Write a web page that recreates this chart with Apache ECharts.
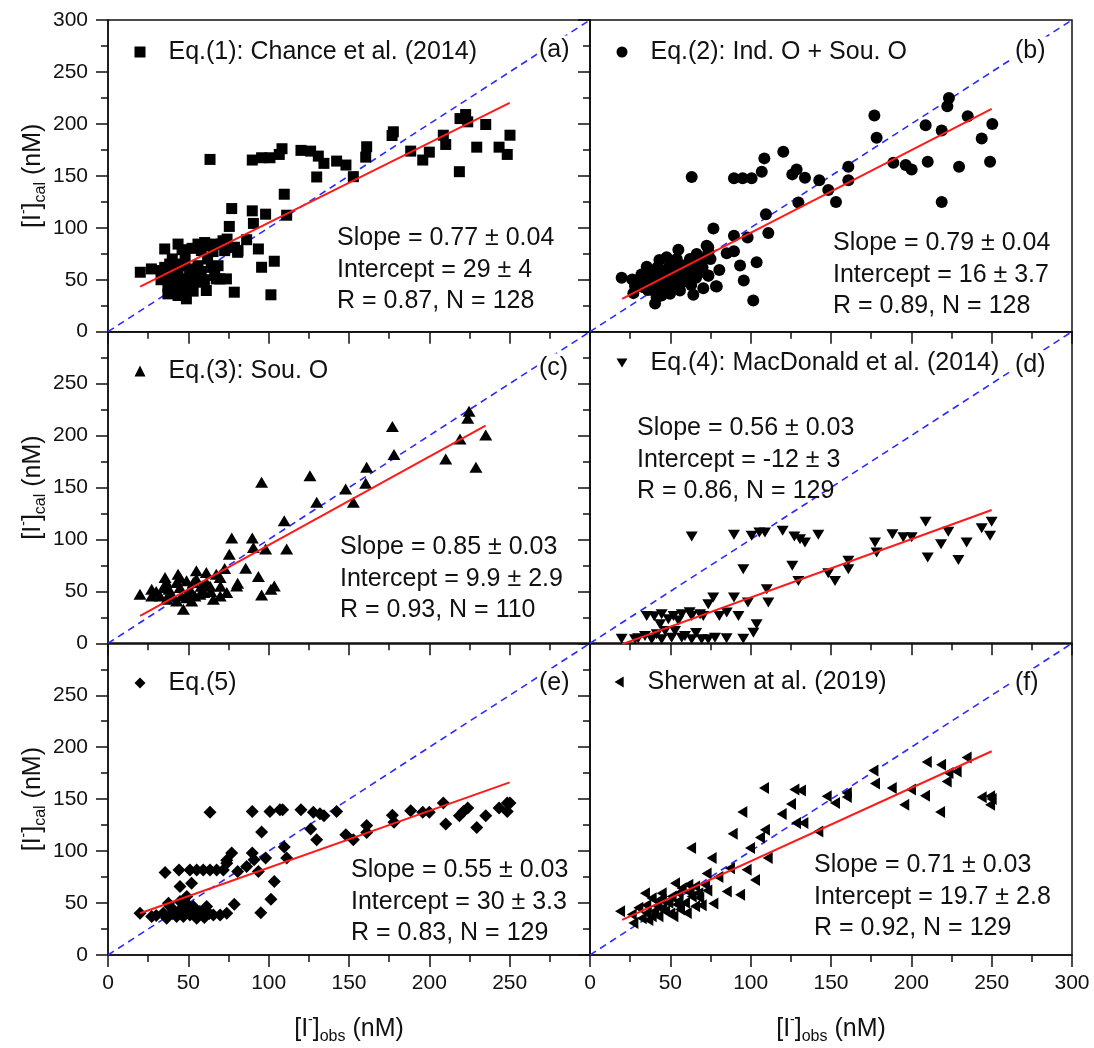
<!DOCTYPE html>
<html>
<head>
<meta charset="utf-8">
<script src="https://cdn.jsdelivr.net/npm/echarts@6/dist/echarts.min.js"></script>
<style>
html,body{margin:0;padding:0;background:#fff;}
#chart{width:1094px;height:1048px;}
</style>
</head>
<body>
<div id="chart"></div>
<script>
// ---------------- DATA ----------------
const xTicks = [0, 50, 100, 150, 200, 250, 300];
const yTicks = [0, 50, 100, 150, 200, 250, 300];

const namesPanel = [
  'Eq.(1): Chance et al. (2014)',
  'Eq.(2): Ind. O + Sou. O',
  'Eq.(3): Sou. O',
  'Eq.(4): MacDonald et al. (2014)',
  'Eq.(5)',
  'Sherwen at al. (2019)'
];
const panelTags = ['(a)', '(b)', '(c)', '(d)', '(e)', '(f)'];

const statsA = ['Slope = 0.77 \u00b1 0.04', 'Intercept = 29 \u00b1 4', 'R = 0.87, N = 128'];
const statsB = ['Slope = 0.79 \u00b1 0.04', 'Intercept = 16 \u00b1 3.7', 'R = 0.89, N = 128'];
const statsC = ['Slope = 0.85 \u00b1 0.03', 'Intercept = 9.9 \u00b1 2.9', 'R = 0.93, N = 110'];
const statsD = ['Slope = 0.56 \u00b1 0.03', 'Intercept = -12 \u00b1 3', 'R = 0.86, N = 129'];
const statsE = ['Slope = 0.55 \u00b1 0.03', 'Intercept = 30 \u00b1 3.3', 'R = 0.83, N = 129'];
const statsF = ['Slope = 0.71 \u00b1 0.03', 'Intercept = 19.7 \u00b1 2.8', 'R = 0.92, N = 129'];

const oneToOne = [[0, 0], [300, 300]];
const fitA = [[20, 43.4], [250, 220.2]];
const fitB = [[20, 31.6], [250, 214.4]];
const fitC = [[20, 26.4], [235, 209.6]];
const fitD = [[20, -0.8], [250, 128.3]];
const fitE = [[20, 40.2], [250, 166.2]];
const fitF = [[20, 33.8], [250, 196.1]];

const panelA = [[63.5,165.8],[89.8,165.2],[95.6,167.4],[100.8,167.4],[106.6,170.6],[108.3,176.1],[120.1,174.5],[126.1,173.8],[130.9,169],[134.4,162],[129.9,148.9],[142.3,164.2],[148.1,160.4],[152.7,149.2],[161,178],[160.4,168],[177.6,192.4],[176.8,188.8],[188.4,173.8],[195.9,165.2],[200,172.8],[208.7,189.1],[210.2,180.2],[218.7,154],[219.1,205.1],[222.6,209],[223.9,202],[229.5,177.6],[235.1,199.4],[243.4,177.6],[248.5,170.6],[250.2,189.1],
[109.7,132.3],[111.2,112.1],[77,118.5],[89.8,116.3],[98.1,113.1],[90.5,104.2],[75.5,101.3],[86.3,88.5],[93.6,79.6],[80.7,76.4],[103.5,67.8],[95.6,62],[101.4,35.5],[78.6,38],[74.1,89.1],[78.7,81.3],
[35.3,79.6],[43.6,84.3],[46.1,78.9],[52.3,80.2],[56,84.3],[62.2,82.9],[65.4,77.1],[70.5,84.3],[71.6,87.5],[72.6,78],[64.7,84.3],[60.2,85.8],[58.1,78],
[20.1,57.2],[27,60.4],[35.3,61.9],[38.4,65.1],[41.5,65.1],[47.7,63.5],[52.9,60.4],[56,63.5],[55,55.5],[43.6,58.8],[36.3,54],[39.4,49.2],[44.6,49.2],[49.8,50.8],[56,47.6],[37.3,42.8],[41.5,41.2],[37.3,36.4],[43.6,34.8],[48.8,31.6],[47.7,36.4],[50.8,46],[61.2,39.6],[64.3,61.9],[68.5,63.5],[66.4,54],[69.5,50.8],[73.7,50.8],[67.4,50.8],[80.9,78],[41.5,55.5],[33.2,58.8],[50.8,57.2],
[40,45],[45,40],[52,52],[58,58],[62,70],[40,70],[48,72],[33,50],[53,39],[60,50]];

const panelB = [[63.3,148.9],[89.6,147.6],[95,147.6],[100.6,147.6],[106.9,154],[108.5,166.8],[120.3,173.2],[125.9,151.4],[128.6,156.2],[133.8,148.2],[129.7,124.3],[142.7,145.7],[148.3,136.4],[153.1,124.9],[160.8,158.8],[160.8,145.7],[177,208],[178.4,186.6],[188.8,162.6],[196.5,160.4],[200.2,156.2],[208.9,198.7],[210.2,163.6],[218.9,124.9],[218.9,193.6],[222.4,216.9],[223.4,225],[229.7,158.8],[235.1,207.3],[243.8,185.9],[249,163.6],[250.4,200],
[109.5,113.1],[111,94.9],[76.8,99.4],[89.6,92.3],[98.1,90.7],[89.6,77.3],[85.1,75.4],[93.4,63.6],[103.7,66.8],[95.7,49.2],[101.6,30],[80.5,59.4],[78.9,43.4],[73.6,54],[73.6,81.2],
[19.7,51.8],[26.3,50.2],[27,37.1],[35.3,62.6],[43.2,69],[55,78.9],[72.6,82.8],[66.4,74.8],[62.2,70],[58.1,63.6],[49.8,65.2],[46.7,58.8],[41.5,54],[36.3,49.2],[33.2,42.8],[39.4,39.6],[40.5,27],[44.6,34.8],[49.8,36.4],[56,39.6],[64.3,35.5],[70.5,41.8],[78.4,43.8],[73.7,53.9],[68.5,57.2],[62.2,50.8],[54,49.2],[47.7,46],[43.6,46],[38.4,46],[35.3,50.8],[51.9,54],[58.1,55.5],[62.2,58.8],[65.4,65.2],[54,70],[47.7,71.6],[69.5,70],[73.7,76.4],[49.8,42.8],[41.5,33.2],
[30,45],[32,55],[38,58],[42,62],[45,52],[48,60],[52,58],[55,65],[58,48],[60,62],[63,45],[66,52],[70,62],[75,70],[45,40],[53,44],[36,40],[28,44]];

const panelC = [[95.6,155],[125.7,161.4],[129.9,135.7],[147.9,148.6],[152.7,135.7],[161,169.5],[160.4,154],[177,208.7],[178,181.7],[210.2,177.5],[219.1,196.8],[223.9,216.7],[224.7,223.5],[229,169.5],[235.1,200.6],
[109.7,118],[111.2,90.7],[77,101.3],[89.8,101.3],[90.5,92.3],[98.1,90.7],[75.5,85.8],[85.7,72.3],[93.6,64.3],[80.7,57.9],[103.5,55.3],[101.4,52.1],[95.6,46.6],
[19.9,47.2],[27.2,52.1],[27.2,45.6],[35.5,63.4],[43.6,66.6],[55,69.8],[61.2,68.2],[67.4,66.6],[72.6,72.1],[34.4,53.7],[38.6,48.9],[44.8,53.7],[51,52.1],[57.2,47.2],[46.9,32.8],[42.7,40.8],[36.5,42.4],[48.9,44],[54.1,45.6],[65.6,42.4],[69.8,45.6],[73.9,48.9],[80.1,55.3],[42.7,58.6],[48.9,60.2],[53.1,58.6],[61.2,58.6],[69.8,63.4],[39.6,45.6],[32.4,45.6],[45.8,45.6],[52.1,40.8],[59.6,48.9],[63.5,55.3],[36.5,58.6],
[30,50],[38,52],[50,48],[58,55],[64,50],[70,55],[45,63],[55,62]];

const panelD = [[63.3,102.9],[89.6,104.5],[100.6,103.5],[105.4,106.8],[108.9,106.8],[119.9,108.3],[127.2,102.9],[130.7,100.3],[133.8,97.1],[142.1,104.5],[95.4,71.4],[125.9,74.6],[129.7,60.1],[148.3,67.5],[152.5,60.1],[160.8,79.4],[160.8,71.4],[177.4,97.1],[178.4,87.5],[188.2,105.1],[195,102],[200.2,102],[208.9,117],[210.2,82.7],[218.5,95.5],[223,107.5],[229.3,80.1],[234.4,97.1],[243.8,110.9],[249,103.5],[250,117],
[110,52.1],[111,39.3],[76.7,44.1],[89.6,44.1],[98.3,39.3],[85.1,29.6],[92.4,26.4],[103.7,18.3],[101.7,10.3],[95.4,4.5],[80.5,26.4],[73.6,37.6],
[19.7,4.5],[28,3.9],[35.3,26.4],[44.6,28],[43.6,18.3],[52,26.4],[57.1,28],[63.3,26.4],[68.5,28],[70.5,26.4],[48.8,23.2],[38.4,3.9],[44.6,3.9],[50.8,5.5],[57.1,5.5],[63.3,3.9],[69.5,3.9],[77.8,5.5],[46.7,11.9],[52.9,11.9],[41.5,8.7],[34.2,7.1],[59.1,7.1],[73.6,3.9],
[40,26],[55,22],[62,30],[30,5],[85,5],[66,10]];

const panelE = [[63.5,137.3],[89.8,138.2],[100.8,138.2],[107,139.8],[108.7,139.8],[120.1,139.8],[127.8,137.3],[131.9,136],[134.4,134.1],[142.3,138.2],[95.6,118.3],[126.1,121.2],[129.9,110.9],[109.7,103.9],[111.2,93.3],[77,98.2],[89.8,98.2],[90.9,91.8],[98.1,93.3],[86.3,85.2],[80.7,80.3],[73.9,91.3],[93.6,80.3],[103.5,70.7],[101.4,53.6],[95.1,40.7],[78.6,48.8],
[148,115.8],[152.7,110.9],[161,124.7],[161,118],[177,134.4],[178,127.7],[188.4,138.8],[195.9,137.3],[200,137.3],[208.7,146.3],[210.2,126],[218.7,134.1],[221.2,138.2],[223.9,141.5],[229.5,122.8],[235.1,134.1],[243.4,141.5],[248.5,138.2],[250.2,146.3],[248.5,146.3],
[19.9,40.2],[27.2,37],[35.5,79.4],[44.2,81.9],[44.8,65.9],[52,69.1],[51,81.9],[55.2,81.9],[59.3,81.9],[63.5,81.9],[67.6,81.9],[71.8,81.9],[73.9,88.4],[49,56.3],[38.6,46.6],[34.4,40.2],[36.5,35.4],[42.7,37],[46.9,37],[51,38.6],[55.2,35.4],[57.2,41.8],[61.4,46.6],[65.6,38.6],[69.8,38.6],[73.9,40.2],[40.6,43.4],[45.8,45],[50,43.4],[53.1,46.6],[37.6,49.8],[44.8,51.4],
[30,38],[40,40],[47,42],[55,40],[60,36],[63,40],[50,48]];

const panelF = [[62.9,102.9],[108.3,160.8],[94.8,137.6],[88.8,116.7],[75.7,93.3],[119.3,135.7],[125.1,145.3],[127.2,159.2],[131.3,158.3],[128.2,127],[132.8,127],[108.9,120.5],[105.8,113.1],[99.6,102.9],[110.6,93.3],[142.1,118.9],[147.3,152.7],[152.5,146.3],[159.8,155.9],[159.8,152.1],[176.4,177.5],[177.4,165],[187.8,160.8],[195.6,144.7],[199.8,159.2],[208.5,153.4],[209.6,185.8],[217.9,137.6],[218.5,183.2],[222,167.1],[223.1,175.1],[228.2,176.7],[234.4,190.2],[243.8,151.8],[249,152.8],[249,144.7],[250,150.2],
[87.1,83.6],[97.5,82],[102.7,72.3],[85.1,61.1],[93.4,57.9],[79.9,75.1],[72.6,78.4],[76.8,49.5],[69.5,47.9],
[18.7,42.1],[26,38.9],[27,30.9],[34.2,59.5],[38.4,54.7],[35.3,40.5],[36.3,33.8],[41.5,47.2],[44.6,59.5],[46.7,42.1],[50.8,56.3],[52.9,69.1],[57.1,64.3],[61.2,67.5],[65.4,65.9],[71.6,67.5],[51.9,37.3],[56,43.7],[59.1,50.2],[63.3,56.3],[67.4,59.5],[42.6,37.3],[48.8,50.2],[54,48.6],[60.2,40.5],[65.4,47],[30.1,45.6],[32.2,35.4],[38.4,37.3],[44.6,53.1],[55,59.5],
[40,42],[45,45],[50,40],[55,52],[62,60],[68,55],[73,62],[35,48],[42,52]];

// ---------------- LAYOUT ----------------
const FONT = '"Liberation Sans", Arial, Helvetica, sans-serif';
const ICON_DOWN = 'path://M0,0L12,0L6,10Z';
const ICON_LEFT = 'path://M0,6L10,0L10,12Z';
const panels = [
  {pts: panelA, fit: fitA, stats: statsA, sym: 'rect', size: 11, rot: 0, icon: 'rect'},
  {pts: panelB, fit: fitB, stats: statsB, sym: 'circle', size: 12, rot: 0, icon: 'circle'},
  {pts: panelC, fit: fitC, stats: statsC, sym: 'triangle', size: [13, 11], rot: 0, icon: 'triangle'},
  {pts: panelD, fit: fitD, stats: statsD, sym: 'triangle', size: [12, 10], rot: 180, icon: ICON_DOWN},
  {pts: panelE, fit: fitE, stats: statsE, sym: 'diamond', size: 13, rot: 0, icon: 'diamond'},
  {pts: panelF, fit: fitF, stats: statsF, sym: 'triangle', size: [12, 10], rot: 90, icon: ICON_LEFT}
];
const gridLeft = [108, 590];
const gridTop = [20, 331.67, 643.33];
const gridW = 482, gridH = 311.67;

// positions of in-panel text (px)
const legendPos = [[134.5, 52], [616.5, 52], [134.5, 371], [616.5, 363], [134.5, 683], [614.5, 682]];
const tagPos = [[537, 50], [1013, 51], [537, 368], [1013, 365], [537, 683], [1013, 683]];
const statPos = [[337, 238], [833, 243], [340, 547], [637, 428], [351, 870], [814, 865]];

const axisNameRich = {
  a: {fontSize: 25, fontFamily: FONT, color: '#111', lineHeight: 32},
  sup: {fontSize: 14, fontFamily: FONT, color: '#111', verticalAlign: 'top', lineHeight: 15},
  sub: {fontSize: 16, fontFamily: FONT, color: '#111', verticalAlign: 'bottom', lineHeight: 17}
};

const grids = [], xAxes = [], yAxes = [], series = [], legends = [], graphics = [];
panels.forEach((p, i) => {
  const col = i % 2, row = Math.floor(i / 2);
  grids.push({left: gridLeft[col], top: gridTop[row], width: gridW, height: gridH,
    show: true, borderColor: '#111', borderWidth: 1.5, backgroundColor: 'transparent'});
  const isBottom = row === 2, isLeft = col === 0;
  xAxes.push({
    gridIndex: i, type: 'value', min: xTicks[0], max: xTicks[xTicks.length - 1], interval: 50,
    axisLine: {show: true, lineStyle: {color: '#111', width: 1.5}},
    axisTick: {show: true, inside: false, length: 12, lineStyle: {color: '#111', width: 1.5}},
    minorTick: {show: true, splitNumber: 2, length: 7, lineStyle: {color: '#111', width: 1.5}},
    splitLine: {show: false},
    axisLabel: {show: isBottom, fontSize: 21, fontFamily: FONT, color: '#111', margin: 18,
      showMaxLabel: !isLeft},
    name: isBottom ? '{a|[I}{sup|-}{a|]}{sub|obs}{a| (nM)}' : '',
    nameLocation: 'middle', nameGap: 58,
    nameTextStyle: {rich: axisNameRich}
  });
  yAxes.push({
    gridIndex: i, type: 'value', min: yTicks[0], max: yTicks[yTicks.length - 1], interval: 50,
    axisLine: {show: true, lineStyle: {color: '#111', width: 1.5}},
    axisTick: {show: true, inside: false, length: 12, lineStyle: {color: '#111', width: 1.5}},
    minorTick: {show: true, splitNumber: 2, length: 7, lineStyle: {color: '#111', width: 1.5}},
    splitLine: {show: false},
    axisLabel: {show: isLeft, fontSize: 21, fontFamily: FONT, color: '#111', margin: 20,
      showMaxLabel: row === 0},
    name: isLeft ? '{a|[I}{sup|-}{a|]}{sub|cal}{a| (nM)}' : '',
    nameLocation: 'middle', nameGap: 40, nameRotate: 90,
    nameTextStyle: {rich: axisNameRich}
  });
  series.push({
    name: namesPanel[i], type: 'scatter', xAxisIndex: i, yAxisIndex: i,
    data: p.pts, symbol: p.sym, symbolSize: p.size, symbolRotate: p.rot,
    itemStyle: {color: '#000', opacity: 1}, z: 3
  });
  series.push({
    type: 'line', xAxisIndex: i, yAxisIndex: i, data: oneToOne, symbol: 'none',
    lineStyle: {color: '#2b2bff', width: 1.6, type: [7, 5]}, z: 2, silent: true
  });
  series.push({
    type: 'line', xAxisIndex: i, yAxisIndex: i, data: p.fit, symbol: 'none',
    lineStyle: {color: '#ff1a1a', width: 2}, z: 4, silent: true
  });
  legends.push({
    data: [{name: namesPanel[i], icon: p.icon}],
    left: legendPos[i][0], top: legendPos[i][1] - 14, padding: 0,
    itemWidth: 11, itemHeight: 11, selectedMode: false, orient: 'horizontal',
    textStyle: {fontSize: 25, fontFamily: FONT, color: '#111', padding: [0, 0, 0, 18], lineHeight: 28}
  });
  graphics.push({
    type: 'text', x: tagPos[i][0], y: tagPos[i][1], z: 100,
    style: {text: panelTags[i], fontSize: 25, fontFamily: FONT, fill: '#111',
      verticalAlign: 'middle', align: 'left', backgroundColor: '#fff', padding: [2, 2, 2, 2]}
  });
  graphics.push({
    type: 'text', x: statPos[i][0], y: statPos[i][1] - 15.8, z: 100,
    style: {text: p.stats.join('\n'), fontSize: 25, fontFamily: FONT, fill: '#111',
      verticalAlign: 'top', align: 'left', lineHeight: 31.7}
  });
});

const chart = echarts.init(document.getElementById('chart'), null, {renderer: 'canvas'});
chart.setOption({
  backgroundColor: '#fff',
  animation: false,
  grid: grids,
  xAxis: xAxes,
  yAxis: yAxes,
  legend: legends,
  series: series,
  graphic: graphics
});
</script>
</body>
</html>
